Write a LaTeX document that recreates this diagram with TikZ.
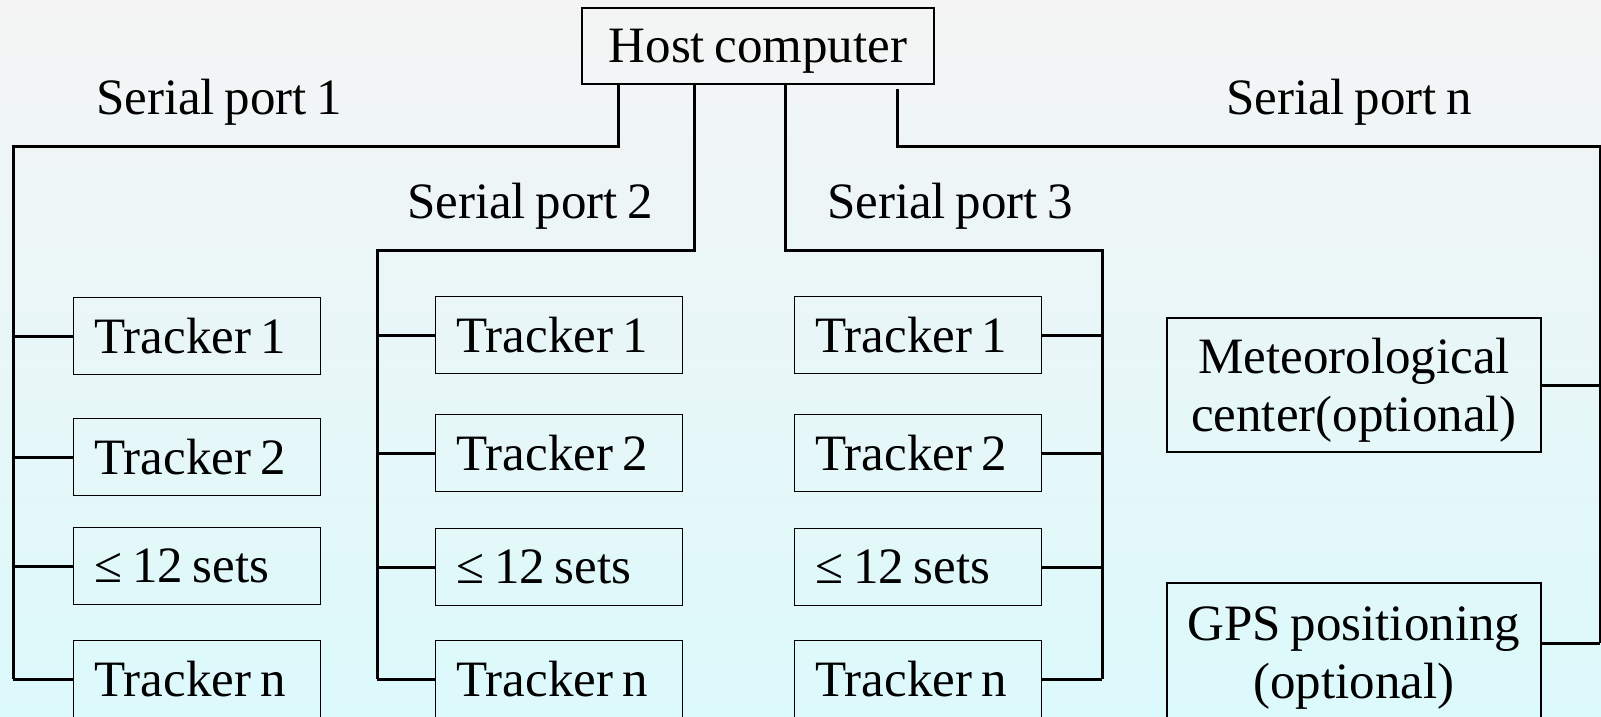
\documentclass[tikz,border=0pt]{standalone}
\usepackage{fontspec}
\setmainfont{Liberation Serif}[WordSpace=0.75]
\usepackage{tikz}
\definecolor{bgtop}{HTML}{F4F4F4}
\definecolor{bgbottom}{HTML}{DCF9FB}
\tikzstyle{trackbox} = [draw=black, line width=1.6pt, rectangle,
    text width=205pt, align=flush left, inner xsep=21pt, inner ysep=0pt, minimum height=77pt]
\tikzstyle{optbox} = [draw=black, line width=1.6pt, rectangle,
    align=center, minimum width=374pt]
\tikzstyle{portlabel} = [inner sep=0pt, text depth=0pt]
\tikzstyle{bus} = [draw=black, line width=3pt]

\begin{document}
\begin{tikzpicture}[x=1pt, y=-1pt, font=\fontsize{51}{58}\selectfont]
                \useasboundingbox (0,0) rectangle (1601,717);
                \clip (0,0) rectangle (1601,717);
                \fill[top color=bgtop, bottom color=bgbottom] (0,0) rectangle (1601,717);
                % host and port labels
                \node [draw=black, line width=1.6pt, text depth=0pt, minimum width=352pt, minimum height=76pt] (host) at (758,46) {Host computer};
                \node [portlabel] (port1) at (219,97) {Serial port 1};
                \node [portlabel] (port2) at (530,201) {Serial port 2};
                \node [portlabel] (port3) at (950,201) {Serial port 3};
                \node [portlabel] (portn) at (1349,97) {Serial port n};
                % trackers on port 1
                \node [trackbox] (a1) at (197,336) {Tracker 1};
                \node [trackbox] (a2) at (197,457) {Tracker 2};
                \node [trackbox] (a3) at (197,566) {≤ 12 sets};
                \node [trackbox] (a4) at (197,679) {Tracker n};
                % trackers on port 2
                \node [trackbox] (b1) at (559,335) {Tracker 1};
                \node [trackbox] (b2) at (559,453) {Tracker 2};
                \node [trackbox] (b3) at (559,567) {≤ 12 sets};
                \node [trackbox] (b4) at (559,679) {Tracker n};
                % trackers on port 3
                \node [trackbox] (c1) at (918,335) {Tracker 1};
                \node [trackbox] (c2) at (918,453) {Tracker 2};
                \node [trackbox] (c3) at (918,567) {≤ 12 sets};
                \node [trackbox] (c4) at (918,679) {Tracker n};
                % optional devices on port n
                \node [optbox, minimum height=134pt, text depth=0pt] (meteo) at (1354,385) {Meteorological\\center(optional)};
                \node [optbox, minimum height=140pt, text depth=0pt] (gps) at (1354,653) {GPS positioning\\(optional)};
                % buses
                \coordinate (bus1) at (13,146);
                \coordinate (bus2) at (377,250);
                \coordinate (bus3) at (1102,250);
                \coordinate (busn) at (1600,146);
                \coordinate (gpsin) at ([yshift=10pt]gps.east);
                \draw [bus] ([xshift=-140pt]host.south) |- (bus1) -- (bus1 |- a4.west);
                \draw [bus] ([xshift=-64pt]host.south) |- (bus2) -- (bus2 |- b4.west);
                \draw [bus] ([xshift=27pt]host.south) |- (bus3) -- (bus3 |- c4.east);
                \draw [bus] ([xshift=139pt,yshift=-4pt]host.south) |- (busn) -- (busn |- gpsin);
                \foreach \i in {1,...,4} {
                    \draw [bus] (bus1 |- a\i.west) -- (a\i.west);
                    \draw [bus] (bus2 |- b\i.west) -- (b\i.west);
                    \draw [bus] (c\i.east) -- (bus3 |- c\i.east);
                }
                \draw [bus] (meteo.east) -- (busn |- meteo.east);
                \draw [bus] (gpsin) -- (busn |- gpsin);
            \end{tikzpicture}
\end{document}
